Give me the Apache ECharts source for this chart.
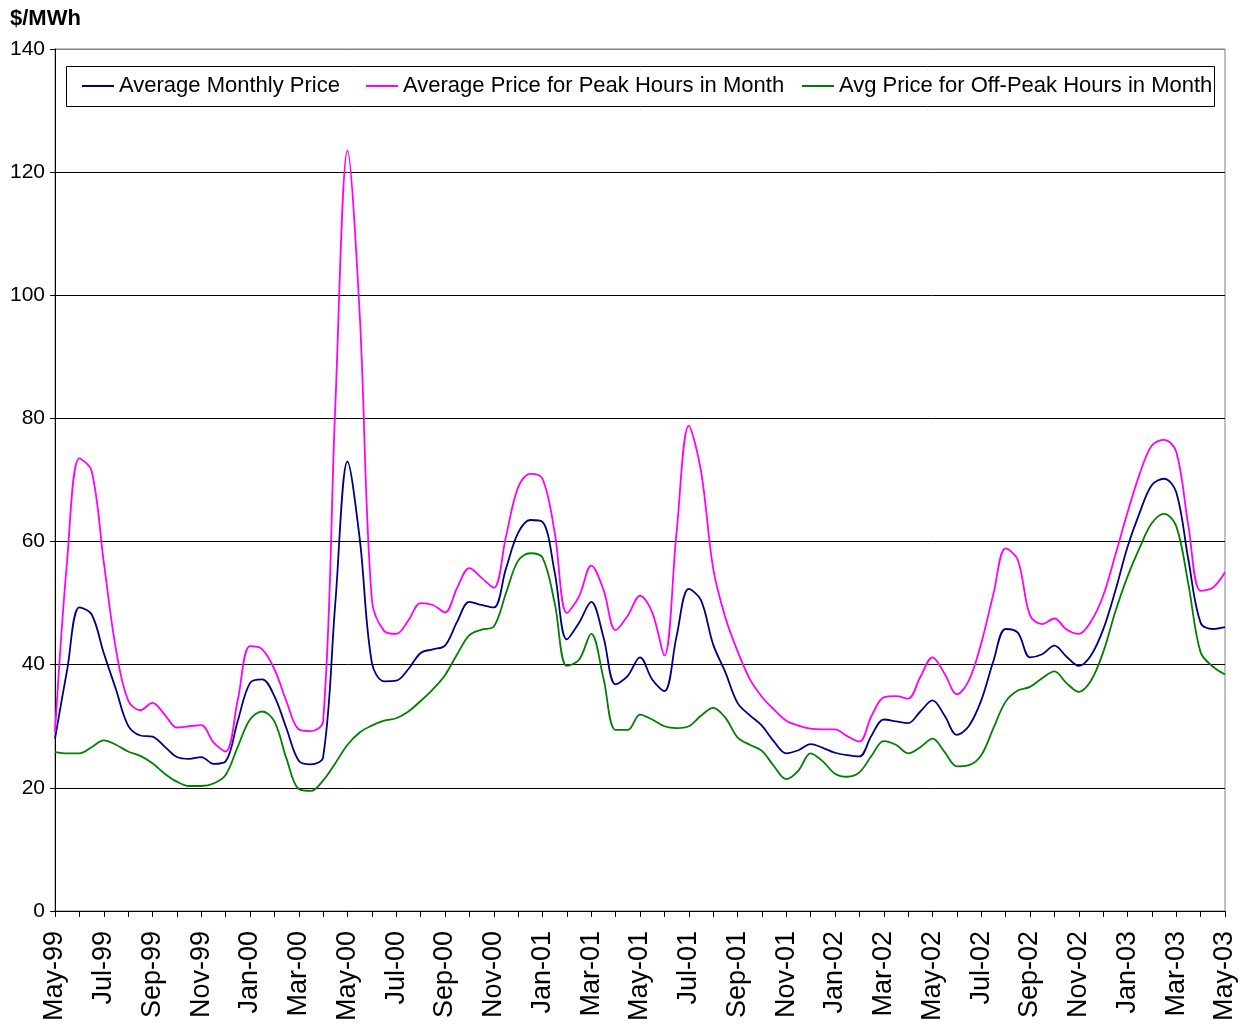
<!DOCTYPE html>
<html>
<head>
<meta charset="utf-8">
<script src="https://cdn.jsdelivr.net/npm/echarts@6/dist/echarts.min.js"></script>
<style>
html,body{margin:0;padding:0;background:#fff;}
#chart{width:1248px;height:1024px;}
</style>
</head>
<body>
<div id="chart"></div>
<script>
// Month tick labels (one per month, May-99 .. May-03)
const months = ['May-99','Jun-99','Jul-99','Aug-99','Sep-99','Oct-99','Nov-99','Dec-99',
  'Jan-00','Feb-00','Mar-00','Apr-00','May-00','Jun-00','Jul-00','Aug-00','Sep-00','Oct-00','Nov-00','Dec-00',
  'Jan-01','Feb-01','Mar-01','Apr-01','May-01','Jun-01','Jul-01','Aug-01','Sep-01','Oct-01','Nov-01','Dec-01',
  'Jan-02','Feb-02','Mar-02','Apr-02','May-02','Jun-02','Jul-02','Aug-02','Sep-02','Oct-02','Nov-02','Dec-02',
  'Jan-03','Feb-03','Mar-03','Apr-03','May-03'];

// Values sampled every half month (index i -> month i/2)
const avgMonthly = [28,39.2,49.3,48.2,41.9,36,30.1,28.5,28.3,26.7,25,24.7,25,23.9,24.3,30.9,
  37,37.6,34.9,29.6,24.4,23.8,25,50,73,60.5,40.3,37.3,37.4,39.3,41.9,42.5,
  43.1,47,50.2,49.7,49.3,55.6,61.4,63.5,63.2,55,44.1,46.8,50.2,44.5,36.8,38.2,
  41.2,37.6,35.7,44.6,52.3,50.5,43.3,38.8,33.8,31.8,30.1,27.5,25.6,26.1,27.1,26.5,
  25.7,25.3,25.1,28.5,31.1,30.8,30.5,32.4,34.2,31.7,28.6,30.1,34.2,40.6,45.8,45.2,
  41.2,41.7,43.1,41.3,39.8,41.5,45.7,52,59.1,64.7,69.2,70.2,68,57,46.8,45.8,46.1];

const peakHours = [29,57,73.5,71.5,56.7,42.5,34.2,32.6,33.8,31.9,29.8,30,30.2,27.4,25.9,34.3,
  43,42.5,39.3,34,29.5,29.2,30.8,82,123.5,97,50.5,45.5,45,47.2,50,49.7,
  48.5,52.5,55.7,54.1,52.5,60.8,68.8,71,70.2,61.5,48.4,51.1,56.1,52.2,45.6,48,
  51.2,48.5,41.5,61.5,78.8,71.5,55.7,47.7,42.2,37.7,34.8,32.7,30.9,30.1,29.6,29.5,
  29.5,28.4,27.5,31.7,34.7,34.9,34.5,38,41.2,38.5,35.2,37.5,43.5,51.5,58.9,57,
  48,46.6,47.5,45.7,45,47,51.2,57.8,64.7,71,75.6,76.5,74.6,62.5,52,52.5,55];

const offPeakHours = [25.8,25.6,25.6,26.6,27.7,27,25.9,25.2,24,22.3,21,20.3,20.3,20.7,22.1,26.7,
  31.1,32.4,30.8,24.7,19.8,19.5,21.2,24,27,29,30.1,30.9,31.3,32.4,34.1,36,
  38.3,41.7,44.8,45.7,46.2,51.6,56.9,58.1,57.4,50,39.8,40.8,45,37.8,29.4,29.4,
  31.9,31.1,30,29.7,30,31.7,33,31.4,28.2,27,26,23.5,21.4,22.8,25.6,24.3,
  22.3,21.8,22.5,25.2,27.6,27,25.6,26.6,28,25.8,23.5,23.7,25.3,29.7,34,35.8,
  36.4,37.8,38.9,37,35.6,37.4,42,48.6,54.3,59,63,64.5,62.5,53,42,39.7,38.4];

const seriesNames = ['Average Monthly Price','Average Price for Peak Hours in Month','Avg Price for Off-Peak Hours in Month'];
const yTicks = [0,20,40,60,80,100,120,140];

const toPairs = arr => arr.map((v,i) => [i/2, v]);
const FONT = '"Liberation Sans", Arial, sans-serif';

const chart = echarts.init(document.getElementById('chart'), null, {renderer:'canvas'});
const legendBase = {
  top: 75, padding: 0, itemWidth: 32, itemHeight: 2, itemGap: 0, icon: 'rect',
  textStyle: {fontFamily: FONT, fontSize: 22, color: '#000', padding: [0,0,0,0]},
  selectedMode: false
};
chart.setOption({
  animation: false,
  backgroundColor: '#fff',
  graphic: [
    {type:'text', left: 10, top: 8, style:{text:'$/MWh', font:'bold 22px ' + FONT, fill:'#000'}},
    {type:'rect', shape:{x:66.5, y:66.5, width:1148, height:40}, style:{fill:'#fff', stroke:'#000', lineWidth:1}, z:-1}
  ],
  legend: [
    Object.assign({}, legendBase, {left: 82, data:[seriesNames[0]]}),
    Object.assign({}, legendBase, {left: 366, data:[seriesNames[1]]}),
    Object.assign({}, legendBase, {left: 802, data:[seriesNames[2]]})
  ],
  grid: {left: 55, right: 23, top: 49, bottom: 112, show: true, borderColor: '#808080', borderWidth: 1},
  xAxis: {
    type: 'value', min: 0, max: months.length - 1, interval: 1,
    axisLine: {show: true, onZero: false, lineStyle: {color: '#000', width: 1}},
    axisTick: {show: true, length: 6, lineStyle: {color: '#000'}},
    splitLine: {show: false},
    axisLabel: {
      rotate: 90, margin: 20, fontFamily: FONT, fontSize: 27, color: '#000',
      formatter: v => (Number.isInteger(v) && v % 2 === 0) ? months[v] : ''
    }
  },
  yAxis: {
    type: 'value', min: yTicks[0], max: yTicks[yTicks.length-1], interval: 20,
    axisLine: {show: true, lineStyle: {color: '#000', width: 1}},
    axisTick: {show: true, length: 5, lineStyle: {color: '#000'}},
    splitLine: {show: true, lineStyle: {color: ['#000','#000','#000','#000','#000','#000','#000','#808080'], width: 1}},
    axisLabel: {margin: 10, fontFamily: FONT, fontSize: 21, color: '#000'}
  },
  series: [
    {name: seriesNames[0], type: 'line', data: toPairs(avgMonthly), symbol: 'none', smooth: 0.35,
     color: '#000080', lineStyle: {width: 1.8, color: '#000080'}},
    {name: seriesNames[1], type: 'line', data: toPairs(peakHours), symbol: 'none', smooth: 0.35,
     color: '#FF00FF', lineStyle: {width: 1.8, color: '#FF00FF'}},
    {name: seriesNames[2], type: 'line', data: toPairs(offPeakHours), symbol: 'none', smooth: 0.35,
     color: '#008000', lineStyle: {width: 1.8, color: '#008000'}}
  ]
});
</script>
</body>
</html>
